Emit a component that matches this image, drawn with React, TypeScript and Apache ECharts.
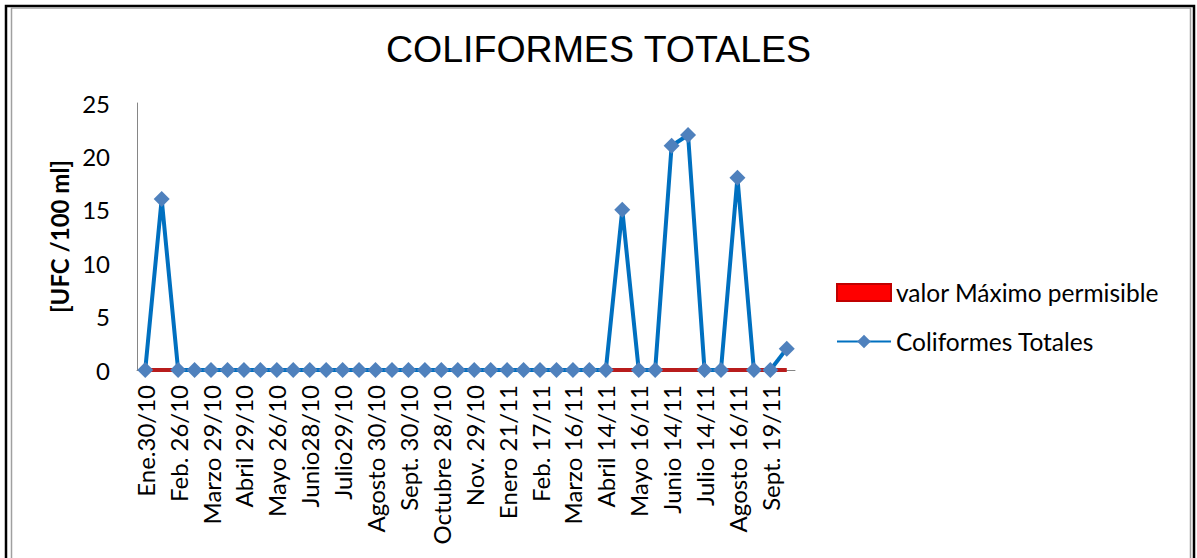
import React, { useEffect, useRef } from "react";
import * as echarts from "echarts";

const shownLabels = [
  "Ene.30/10", "Feb. 26/10", "Marzo 29/10", "Abril 29/10", "Mayo 26/10",
  "Junio28/10", "Julio29/10", "Agosto 30/10", "Sept. 30/10", "Octubre 28/10",
  "Nov. 29/10", "Enero 21/11", "Feb. 17/11", "Marzo 16/11", "Abril 14/11",
  "Mayo 16/11", "Junio 14/11", "Julio 14/11", "Agosto 16/11", "Sept. 19/11",
];
// every second category label is hidden by the axis (Excel style)
const categories: string[] = shownLabels.flatMap((l) => [l, l + " (2)"]);

const coliformes: number[] = [
  0, 16, 0, 0, 0, 0, 0, 0, 0, 0,
  0, 0, 0, 0, 0, 0, 0, 0, 0, 0,
  0, 0, 0, 0, 0, 0, 0, 0, 0, 15,
  0, 0, 21, 22, 0, 0, 18, 0, 0, 2,
];
const valorMaximo: number[] = categories.map(() => 0);
const gapAfter = 37; // the line is broken between these two samples

const yTicks = { min: 0, max: 25, interval: 5 };

const FONT = "Lato";

export default function App() {
  const ref = useRef<HTMLDivElement>(null);
  useEffect(() => {
    if (!ref.current) return;
    const chart = echarts.init(ref.current, undefined, { renderer: "svg" });
    const partA = coliformes.map((v, i) => (i <= gapAfter ? v : null));
    const partB = coliformes.map((v, i) => (i > gapAfter ? v : null));
    const blueSeries = (data: (number | null)[]) => ({
      name: "Coliformes Totales",
      type: "line",
      data,
      symbol: "diamond",
      symbolSize: 16,
      showSymbol: true,
      showAllSymbol: true,
      connectNulls: false,
      itemStyle: { color: "#4f81bd" },
      lineStyle: { color: "#0070c0", width: 4 },
      z: 3,
    });
    chart.setOption({
      animation: false,
      textStyle: { fontFamily: FONT },
      title: {
        text: "COLIFORMES TOTALES",
        left: "center",
        top: 25,
        textStyle: {
          fontFamily: "Liberation Sans",
          fontSize: 37.5,
          fontWeight: "normal",
          color: "#000",
        },
      },
      graphic: [
        {
          type: "rect",
          shape: { x: 6, y: 6, width: 1188, height: 580 },
          style: { fill: "none", stroke: "#000", lineWidth: 2.5 },
          silent: true,
        },
        {
          type: "rect",
          shape: { x: 11.5, y: 8, width: 1179, height: 580 },
          style: { fill: "none", stroke: "#a0a0a0", lineWidth: 1.5 },
          silent: true,
        },
      ],
      legend: {
        orient: "vertical",
        left: 836,
        top: 280,
        padding: 0,
        itemWidth: 54,
        itemHeight: 17,
        itemGap: 24,
        textStyle: { fontFamily: FONT, fontSize: 24.5, color: "#000" },
        data: [
          {
            name: "valor Máximo permisible",
            icon: "rect",
            itemStyle: { color: "#ff0000", borderColor: "#c00000", borderWidth: 2 },
          },
          { name: "Coliformes Totales" },
        ],
      },
      grid: { left: 137, right: 402, top: 103, bottom: 188, containLabel: false },
      xAxis: {
        type: "category",
        data: categories,
        boundaryGap: true,
        axisLine: { lineStyle: { color: "#868686", width: 1 } },
        axisTick: { show: false },
        axisLabel: {
          interval: 1,
          rotate: 90,
          margin: 15,
          fontFamily: FONT,
          fontSize: 24,
          color: "#000",
        },
      },
      yAxis: {
        type: "value",
        min: yTicks.min,
        max: yTicks.max,
        interval: yTicks.interval,
        name: "[UFC /100 ml]",
        nameLocation: "middle",
        nameGap: 62,
        nameRotate: 90,
        nameTextStyle: {
          fontFamily: FONT,
          fontSize: 24,
          fontWeight: "bold",
          color: "#000",
        },
        axisLine: { show: true, lineStyle: { color: "#868686", width: 1 } },
        axisTick: { show: false },
        splitLine: { show: false },
        axisLabel: {
          margin: 27,
          fontFamily: FONT,
          fontSize: 24,
          color: "#000",
        },
      },
      series: [
        {
          name: "valor Máximo permisible",
          type: "line",
          data: valorMaximo,
          symbol: "none",
          itemStyle: { color: "#ff0000" },
          lineStyle: { color: "#b81c1c", width: 4 },
          z: 2,
        },
        blueSeries(partA),
        blueSeries(partB),
      ],
    });
    return () => chart.dispose();
  }, []);
  return (
    <div
      ref={ref}
      style={{ position: "fixed", left: 0, top: 0, width: 1197, height: 558, background: "#fff" }}
    />
  );
}
